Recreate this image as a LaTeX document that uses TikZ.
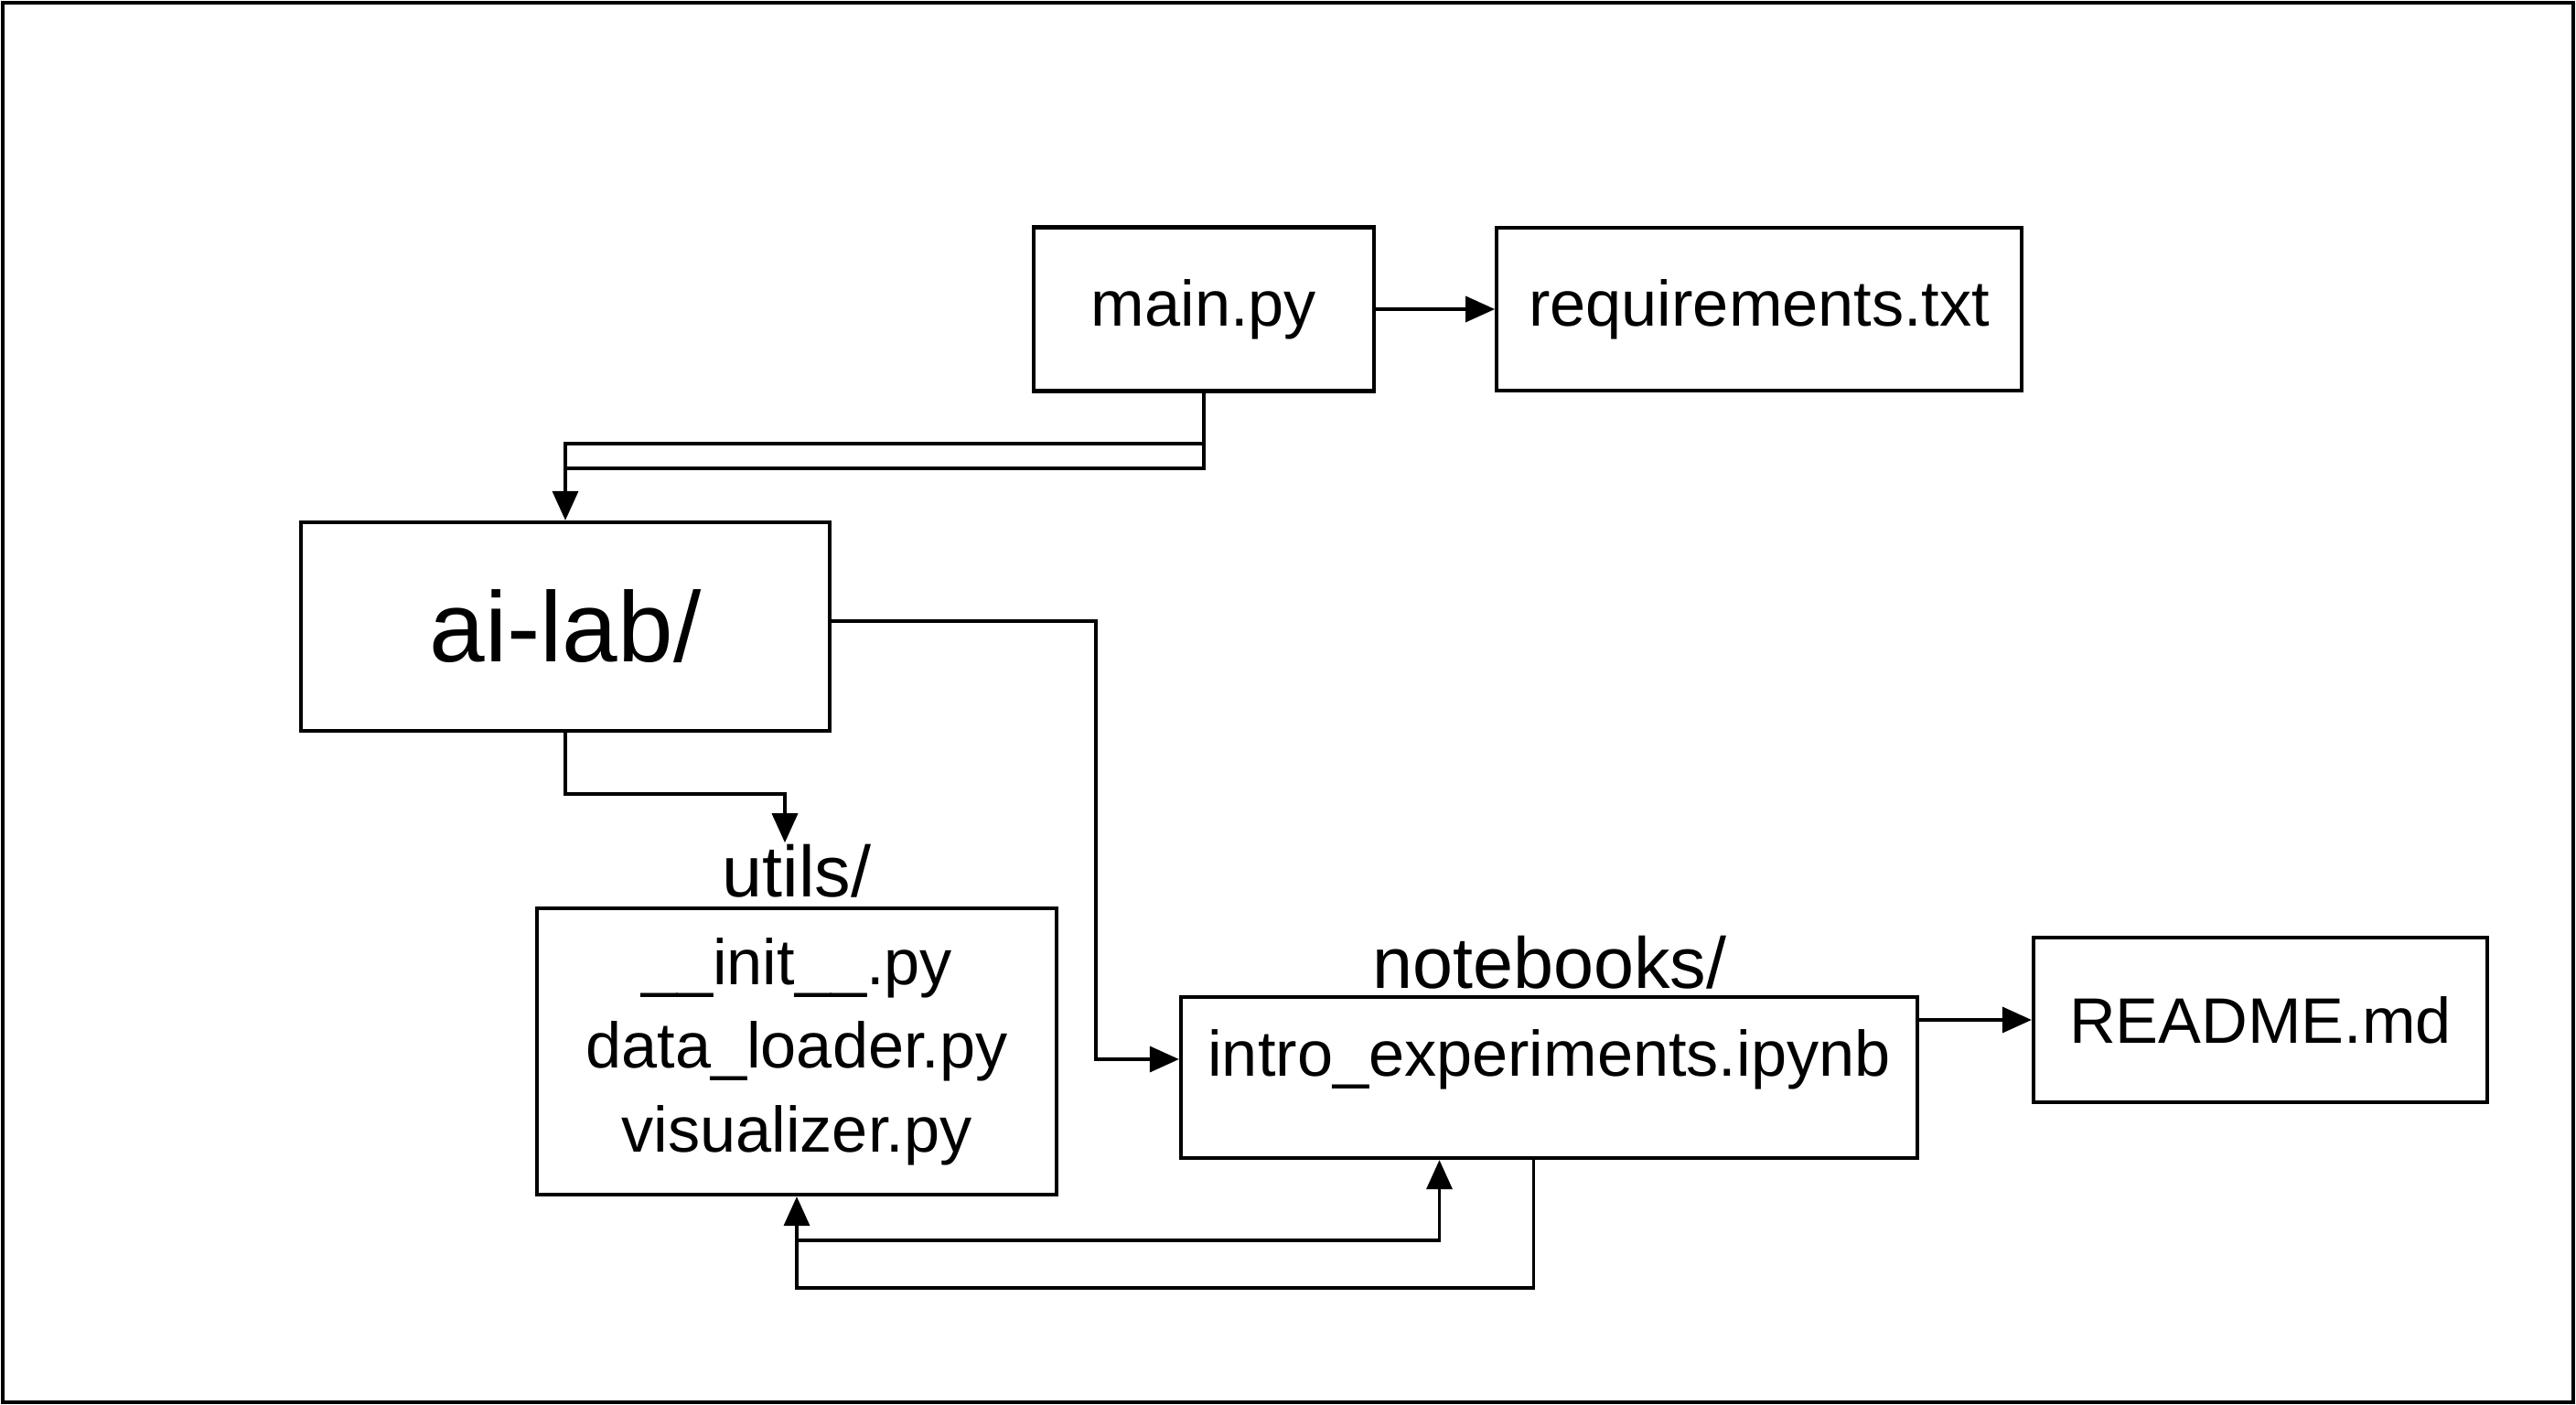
\documentclass[tikz,border=0pt]{standalone}
\usepackage{fontspec}
\setmainfont{Liberation Sans}
\usetikzlibrary{arrows.meta,positioning,calc}

\begin{document}
\begin{tikzpicture}[
    > = {Triangle[length=3.2mm, width=2.8mm]}, % arrow head style
    line width = 1pt, % line style
    ]

    \tikzset{
    filebox/.style={
    draw = black,
    line width = 1.2pt,
    fill = white,
    inner sep = 0pt,
    align = center,
    font = \fontsize{20}{26}\selectfont
    },
    dirlabel/.style={inner sep = 0pt, font = \fontsize{22.5}{26}\selectfont}
    }

    % page and frame
    \useasboundingbox (0,0) rectangle (28.16,-15.36);
    \draw (0.03,-0.03) rectangle (28.13,-15.33);

    \node[filebox, minimum width=3.72cm, minimum height=1.79cm] (main) at (13.16,-3.38) {main.py};
    \node[filebox, minimum width=5.74cm, minimum height=1.78cm] (req) [right=1.3cm of main] {requirements.txt};
    \node[filebox, minimum width=5.78cm, minimum height=2.28cm, font=\fontsize{31}{36}\selectfont] (ailab) at (6.18,-6.85) {ai-lab/};
    \node[filebox, minimum width=5.68cm, minimum height=3.13cm] (utils) at (8.71,-11.495) {\_\_init\_\_.py\\data\_loader.py\\visualizer.py};
    \node[dirlabel] (utilsl) at (8.71,-9.52) {utils/};
    \node[filebox, minimum width=8.05cm, minimum height=1.76cm,
      label={[yshift=0.2cm, font=\fontsize{20}{26}\selectfont]center:intro\_experiments.ipynb}] (intro) at (16.935,-11.78) {};
    \node[dirlabel] (nbl) at (16.94,-10.52) {notebooks/};
    \node[filebox, minimum width=4.96cm, minimum height=1.80cm] (readme) at (24.71,-11.15) {README.md};

    \coordinate (hiA) at (0,-4.85);
    \coordinate (hiB) at (0,-5.12);
    \coordinate (loA) at (0,-13.56);
    \coordinate (loB) at (0,-14.08);
    \coordinate (nbin) at ($(intro.west)+(0,0.2)$);

    \draw[->] (main.east) -- (main.east -| req.west);
    \draw (main.south) -- (main.south |- hiB) -- (ailab.north |- hiB);
    \draw[->] (main.south |- hiA) -- (ailab.north |- hiA) -- (ailab.north);
    \draw[->] (ailab.south) -- ++(0,-0.67) -| ([xshift=-0.13cm]utilsl.north);
    \draw[->] ([yshift=0.06cm]ailab.east) -| ([xshift=-0.91cm]nbin) -- (nbin);
    \draw[->] (intro.east |- readme.west) -- (readme.west);
    \draw[->] (utils.south |- loA) -| ([xshift=-1.2cm]intro.south);
    \draw[->] ([xshift=-0.17cm]intro.south) |- (utils.south |- loB) -- (utils.south);
\end{tikzpicture}
\end{document}
